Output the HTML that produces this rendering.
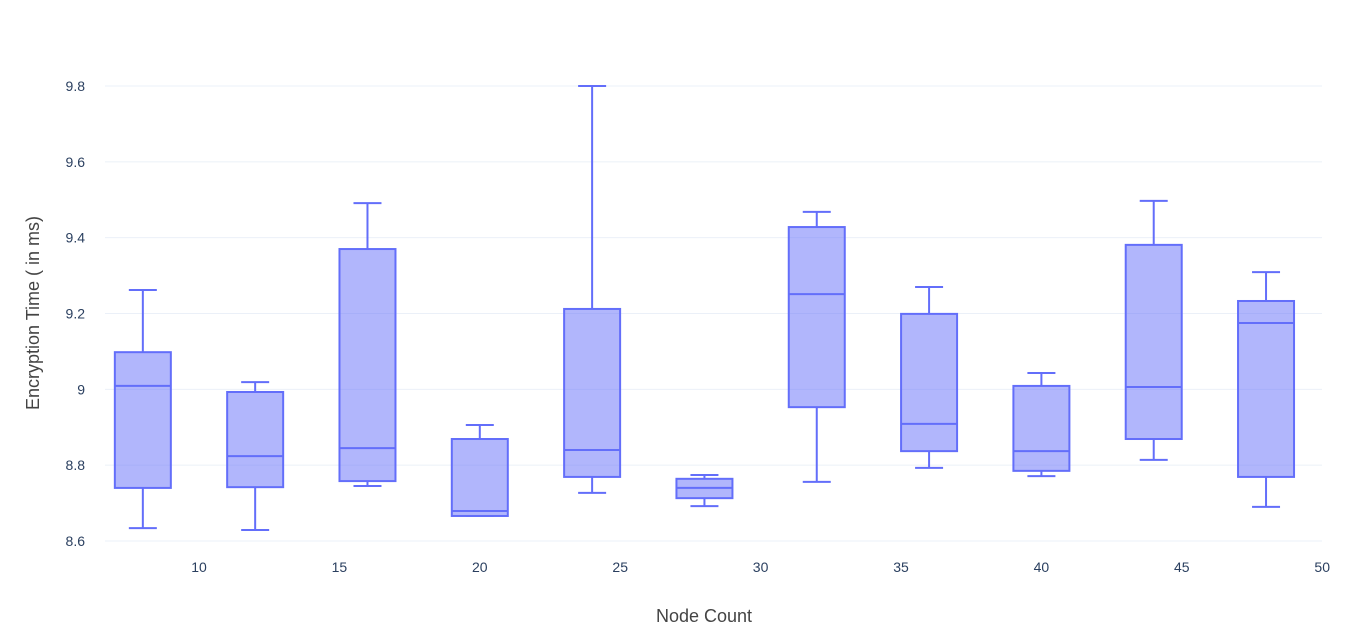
<!DOCTYPE html>
<html><head><meta charset="utf-8"><style>
body{margin:0;background:#fff;font-family:"Liberation Sans",sans-serif}
svg text{font-family:"Liberation Sans",sans-serif}
</style></head><body>
<svg id="chart" width="1354" height="635">
<g id="grid"></g><g id="boxes"></g><g id="axes"></g>
<text x="704" y="622" text-anchor="middle" font-size="18" fill="#444">Node Count</text>
<text transform="translate(39,313) rotate(-90)" text-anchor="middle" font-size="18" fill="#444">Encryption Time ( in ms)</text>
</svg>
<script>
const positions=[8,12,16,20,24,28,32,36,40,44,48];
const lows=[8.634,8.629,8.745,8.666,8.727,8.692,8.756,8.793,8.771,8.814,8.690];
const q1s=[8.740,8.742,8.758,8.666,8.769,8.713,8.953,8.837,8.785,8.869,8.769];
const medians=[9.009,8.824,8.845,8.679,8.840,8.740,9.251,8.909,8.837,9.006,9.175];
const q3s=[9.098,8.993,9.370,8.869,9.212,8.764,9.428,9.199,9.009,9.381,9.233];
const highs=[9.262,9.019,9.491,8.906,9.800,8.774,9.468,9.270,9.043,9.497,9.309];
const yTicks=[8.6,8.8,9,9.2,9.4,9.6,9.8];
const yTickLabels=["8.6","8.8","9","9.2","9.4","9.6","9.8"];
const xTicks=[10,15,20,25,30,35,40,45,50];
const NS="http://www.w3.org/2000/svg";
const X=v=>199+(v-10)*28.08;
const Y=v=>541-(v-8.6)/1.2*455;
function mk(parent,tag,attrs){const e=document.createElementNS(NS,tag);for(const k in attrs)e.setAttribute(k,attrs[k]);document.getElementById(parent).appendChild(e);return e;}
yTicks.forEach((t,i)=>{
  const l=mk('grid','line',{x1:105,x2:1322,y1:Y(t),y2:Y(t),stroke:'#ebf0f8','stroke-width':1});
  
  
  const tx=mk('axes','text',{x:85,y:Y(t)+5,'text-anchor':'end','font-size':14,fill:'#2a3f5f'});
  tx.textContent=yTickLabels[i];
  
  
});
xTicks.forEach(t=>{
  const tx=mk('axes','text',{x:X(t),y:572,'text-anchor':'middle','font-size':14,fill:'#2a3f5f'});
  tx.textContent=String(t);
  
  
});
const c='#636efa',hw=28,cw=14;
positions.forEach((p,i)=>{
  const g=mk('boxes','g',{});
  
  
  const cx=X(p);
  const add=(tag,a)=>{const e=document.createElementNS(NS,tag);for(const k in a)e.setAttribute(k,a[k]);g.appendChild(e);return e;};
  add('line',{x1:cx,x2:cx,y1:Y(highs[i]),y2:Y(q3s[i]),stroke:c,'stroke-width':2});
  add('line',{x1:cx,x2:cx,y1:Y(q1s[i]),y2:Y(lows[i]),stroke:c,'stroke-width':2});
  add('line',{x1:cx-cw,x2:cx+cw,y1:Y(highs[i]),y2:Y(highs[i]),stroke:c,'stroke-width':2});
  add('line',{x1:cx-cw,x2:cx+cw,y1:Y(lows[i]),y2:Y(lows[i]),stroke:c,'stroke-width':2});
  add('rect',{x:cx-hw,y:Y(q3s[i]),width:2*hw,height:Math.max(1,Y(q1s[i])-Y(q3s[i])),fill:'rgba(99,110,250,0.5)',stroke:c,'stroke-width':2});
  add('line',{x1:cx-hw,x2:cx+hw,y1:Y(medians[i]),y2:Y(medians[i]),stroke:c,'stroke-width':2});
});
</script>
</body></html>
